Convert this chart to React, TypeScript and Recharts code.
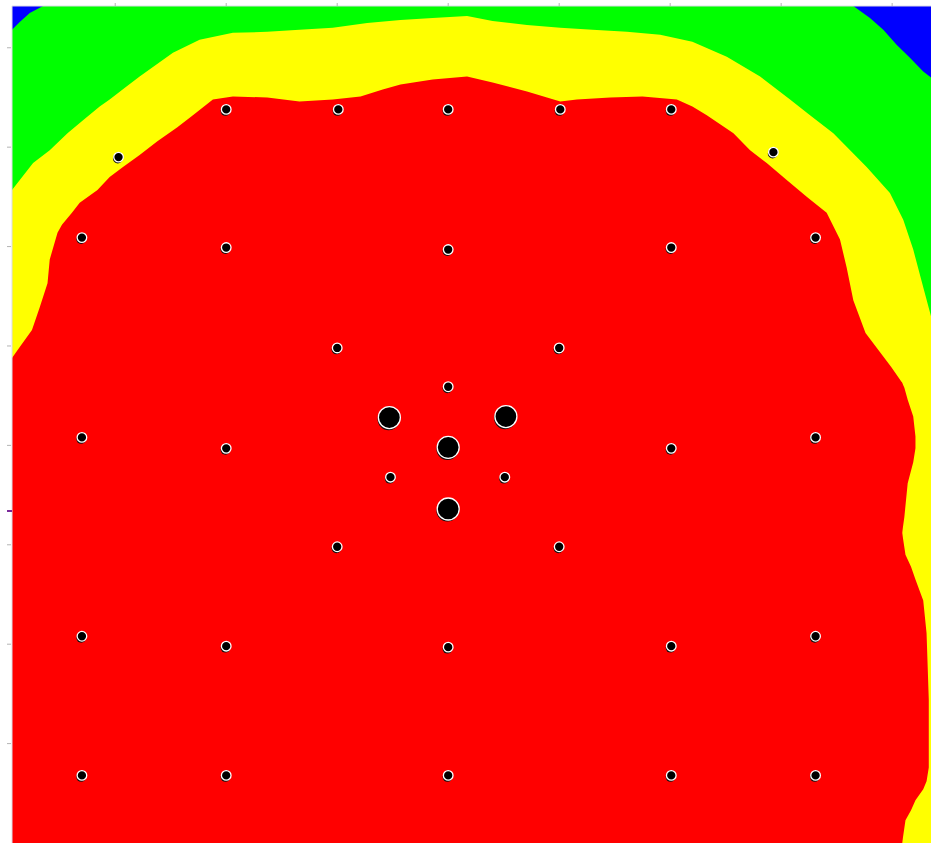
import { Area, CartesianGrid, ComposedChart, Scatter, XAxis, YAxis } from "recharts";

// Field coverage map: plot extent in metres
const X_DOMAIN: [number, number] = [0.07, 8.35];
const Y_DOMAIN: [number, number] = [0, 8.42];
const xTicks = [1, 2, 3, 4, 5, 6, 7, 8];
const cursorLevel = 3.34;
const yTicks = [1, 2, 3, 4, 5, 6, 7, 8, cursorLevel];

const LEVEL_COLORS = {
  weak: "#0000ff",
  fair: "#00ff00",
  good: "#ffff00",
  strong: "#ff0000",
};

// upper edge of the "fair" band (everything above is "weak")
const fairEdge = [
  { x: 0.07, y: 8.18 }, { x: 0.14, y: 8.26 }, { x: 0.23, y: 8.35 }, { x: 0.35, y: 8.42 },
  { x: 7.65, y: 8.42 }, { x: 7.8, y: 8.3 }, { x: 7.92, y: 8.18 }, { x: 8.04, y: 8.03 },
  { x: 8.16, y: 7.9 }, { x: 8.28, y: 7.76 }, { x: 8.35, y: 7.7 },
];

// upper edge of the "good" band
const goodEdge = [
  { x: 0.07, y: 6.57 }, { x: 0.26, y: 6.84 }, { x: 0.41, y: 6.97 }, { x: 0.57, y: 7.14 },
  { x: 0.71, y: 7.27 }, { x: 0.86, y: 7.41 }, { x: 0.95, y: 7.48 }, { x: 1.09, y: 7.6 },
  { x: 1.22, y: 7.71 }, { x: 1.52, y: 7.95 }, { x: 1.76, y: 8.08 }, { x: 2.06, y: 8.15 },
  { x: 2.37, y: 8.16 }, { x: 2.66, y: 8.18 }, { x: 2.96, y: 8.2 }, { x: 3.27, y: 8.25 },
  { x: 3.57, y: 8.28 }, { x: 3.86, y: 8.3 }, { x: 4.17, y: 8.32 }, { x: 4.4, y: 8.27 },
  { x: 4.71, y: 8.23 }, { x: 5.01, y: 8.2 }, { x: 5.3, y: 8.18 }, { x: 5.61, y: 8.16 },
  { x: 5.91, y: 8.13 }, { x: 6.2, y: 8.06 }, { x: 6.51, y: 7.91 }, { x: 6.81, y: 7.71 },
  { x: 7.08, y: 7.48 }, { x: 7.26, y: 7.32 }, { x: 7.47, y: 7.14 }, { x: 7.77, y: 6.8 },
  { x: 7.98, y: 6.54 }, { x: 8.1, y: 6.27 }, { x: 8.19, y: 5.97 }, { x: 8.28, y: 5.59 },
  { x: 8.35, y: 5.3 },
];

// upper edge of the "strong" zone
const strongEdge = [
  { x: 0.07, y: 4.88 }, { x: 0.14, y: 4.99 }, { x: 0.25, y: 5.16 }, { x: 0.32, y: 5.39 },
  { x: 0.39, y: 5.63 }, { x: 0.41, y: 5.87 }, { x: 0.48, y: 6.14 }, { x: 0.52, y: 6.22 },
  { x: 0.61, y: 6.34 }, { x: 0.68, y: 6.44 }, { x: 0.84, y: 6.57 }, { x: 0.95, y: 6.7 },
  { x: 1.07, y: 6.8 }, { x: 1.22, y: 6.92 }, { x: 1.38, y: 7.06 }, { x: 1.56, y: 7.2 },
  { x: 1.7, y: 7.32 }, { x: 1.88, y: 7.48 }, { x: 2.06, y: 7.51 }, { x: 2.37, y: 7.5 },
  { x: 2.66, y: 7.46 }, { x: 2.96, y: 7.48 }, { x: 3.21, y: 7.51 }, { x: 3.41, y: 7.58 },
  { x: 3.57, y: 7.63 }, { x: 3.86, y: 7.68 }, { x: 4.17, y: 7.71 }, { x: 4.4, y: 7.65 },
  { x: 4.71, y: 7.56 }, { x: 5.01, y: 7.46 }, { x: 5.16, y: 7.48 }, { x: 5.46, y: 7.5 },
  { x: 5.75, y: 7.51 }, { x: 6.06, y: 7.48 }, { x: 6.2, y: 7.41 }, { x: 6.33, y: 7.32 },
  { x: 6.45, y: 7.23 }, { x: 6.57, y: 7.14 }, { x: 6.72, y: 6.97 }, { x: 6.87, y: 6.84 },
  { x: 7.05, y: 6.67 }, { x: 7.23, y: 6.5 }, { x: 7.41, y: 6.34 }, { x: 7.53, y: 6.07 },
  { x: 7.59, y: 5.79 }, { x: 7.65, y: 5.46 }, { x: 7.76, y: 5.13 }, { x: 7.99, y: 4.79 },
  { x: 8.09, y: 4.63 },
];

// the strong zone bulges out twice along the right wall
// (each lobe starts a little inside the main zone so the joins stay seamless)
const strongUpperLobe = [
  { x: 8.07, lo: 3.05, hi: 4.65 }, { x: 8.09, lo: 3.12, hi: 4.63 }, { x: 8.11, lo: 3.28, hi: 4.58 },
  { x: 8.14, lo: 3.62, hi: 4.46 }, { x: 8.19, lo: 3.83, hi: 4.29 },
  { x: 8.21, lo: 3.97, hi: 4.09 },
];
const strongLowerLobe = [
  { x: 8.07, lo: 0, hi: 3.2 }, { x: 8.09, lo: 0, hi: 3.12 }, { x: 8.12, lo: 0.23, hi: 2.9 },
  { x: 8.17, lo: 0.33, hi: 2.78 }, { x: 8.21, lo: 0.43, hi: 2.65 },
  { x: 8.28, lo: 0.54, hi: 2.44 }, { x: 8.31, lo: 0.62, hi: 2.11 },
  { x: 8.33, lo: 0.76, hi: 1.44 },
];

// measurement positions
const sensorPoints = [
  { x: 2.0, y: 7.38 }, { x: 3.01, y: 7.38 }, { x: 4.0, y: 7.38 }, { x: 5.01, y: 7.38 }, { x: 6.01, y: 7.38 },
  { x: 1.03, y: 6.9 }, { x: 6.93, y: 6.95 },
  { x: 0.7, y: 6.09 }, { x: 2.0, y: 5.99 }, { x: 4.0, y: 5.97 }, { x: 6.01, y: 5.99 }, { x: 7.31, y: 6.09 },
  { x: 3.0, y: 4.98 }, { x: 5.0, y: 4.98 },
  { x: 4.0, y: 4.59 },
  { x: 0.7, y: 4.08 }, { x: 2.0, y: 3.97 }, { x: 6.01, y: 3.97 }, { x: 7.31, y: 4.08 },
  { x: 3.48, y: 3.68 }, { x: 4.51, y: 3.68 },
  { x: 3.0, y: 2.98 }, { x: 5.0, y: 2.98 },
  { x: 0.7, y: 2.08 }, { x: 2.0, y: 1.98 }, { x: 4.0, y: 1.97 }, { x: 6.01, y: 1.98 }, { x: 7.31, y: 2.08 },
  { x: 0.7, y: 0.68 }, { x: 2.0, y: 0.68 }, { x: 4.0, y: 0.68 }, { x: 6.01, y: 0.68 }, { x: 7.31, y: 0.68 },
];

// transmitter positions
const sourcePoints = [
  { x: 3.47, y: 4.28 }, { x: 4.52, y: 4.29 }, { x: 4.0, y: 3.98 }, { x: 4.0, y: 3.36 },
];

function Marker({ cx, cy, r }: { cx?: number; cy?: number; r: number }) {
  if (cx == null || cy == null) return null;
  return (
    <g>
      <circle cx={cx - 0.8} cy={cy + 1.6} r={r} fill="#111" />
      <circle cx={cx} cy={cy} r={r} fill="#000" stroke="#fff" strokeWidth={1.3} />
    </g>
  );
}

function TopTick({ x, y }: any) {
  return <line x1={x} y1={y - 3} x2={x} y2={y} stroke="#b4b4b4" strokeWidth={1} />;
}

function LeftTick({ x, y, payload }: any) {
  if (payload.value === cursorLevel) {
    return <line x1={x - 5} y1={y} x2={x} y2={y} stroke="#7a2a9a" strokeWidth={2} />;
  }
  return <line x1={x - 5} y1={y} x2={x - 1} y2={y} stroke="#b4b4b4" strokeWidth={1} />;
}

export default function App() {
  return (
    <div style={{ position: "absolute", left: 0, top: 0, width: 931, height: 843, background: "#fff" }}>
      <ComposedChart width={931} height={843} margin={{ top: 0, right: 0, bottom: 0, left: 0 }}>
        <CartesianGrid fill={LEVEL_COLORS.weak} fillOpacity={1} horizontal={false} vertical={false} />
        <XAxis
          type="number"
          dataKey="x"
          orientation="top"
          domain={X_DOMAIN}
          allowDataOverflow
          ticks={xTicks}
          interval={0}
          height={6}
          tickSize={0}
          tickMargin={0}
          tickLine={false}
          tick={<TopTick />}
          axisLine={{ stroke: "#dcdce6" }}
        />
        <YAxis
          type="number"
          dataKey="y"
          domain={Y_DOMAIN}
          allowDataOverflow
          ticks={yTicks}
          interval={0}
          width={12}
          tickSize={0}
          tickMargin={0}
          tickLine={false}
          tick={<LeftTick />}
          axisLine={{ stroke: "#dcdce6" }}
        />
        <Area data={fairEdge} dataKey="y" type="linear" stroke="none" fill={LEVEL_COLORS.fair} fillOpacity={1} dot={false} activeDot={false} isAnimationActive={false} />
        <Area data={goodEdge} dataKey="y" type="linear" stroke="none" fill={LEVEL_COLORS.good} fillOpacity={1} dot={false} activeDot={false} isAnimationActive={false} />
        <Area data={strongEdge} dataKey="y" type="linear" stroke="none" fill={LEVEL_COLORS.strong} fillOpacity={1} dot={false} activeDot={false} isAnimationActive={false} />
        <Area data={strongUpperLobe} dataKey={(d: any) => [d.lo, d.hi]} type="linear" stroke="none" fill={LEVEL_COLORS.strong} fillOpacity={1} dot={false} activeDot={false} isAnimationActive={false} />
        <Area data={strongLowerLobe} dataKey={(d: any) => [d.lo, d.hi]} type="linear" stroke="none" fill={LEVEL_COLORS.strong} fillOpacity={1} dot={false} activeDot={false} isAnimationActive={false} />
        <Scatter data={sensorPoints} shape={(p: any) => <Marker cx={p.cx} cy={p.cy} r={4.8} />} isAnimationActive={false} />
        <Scatter data={sourcePoints} shape={(p: any) => <Marker cx={p.cx} cy={p.cy} r={11} />} isAnimationActive={false} />
      </ComposedChart>
    </div>
  );
}
